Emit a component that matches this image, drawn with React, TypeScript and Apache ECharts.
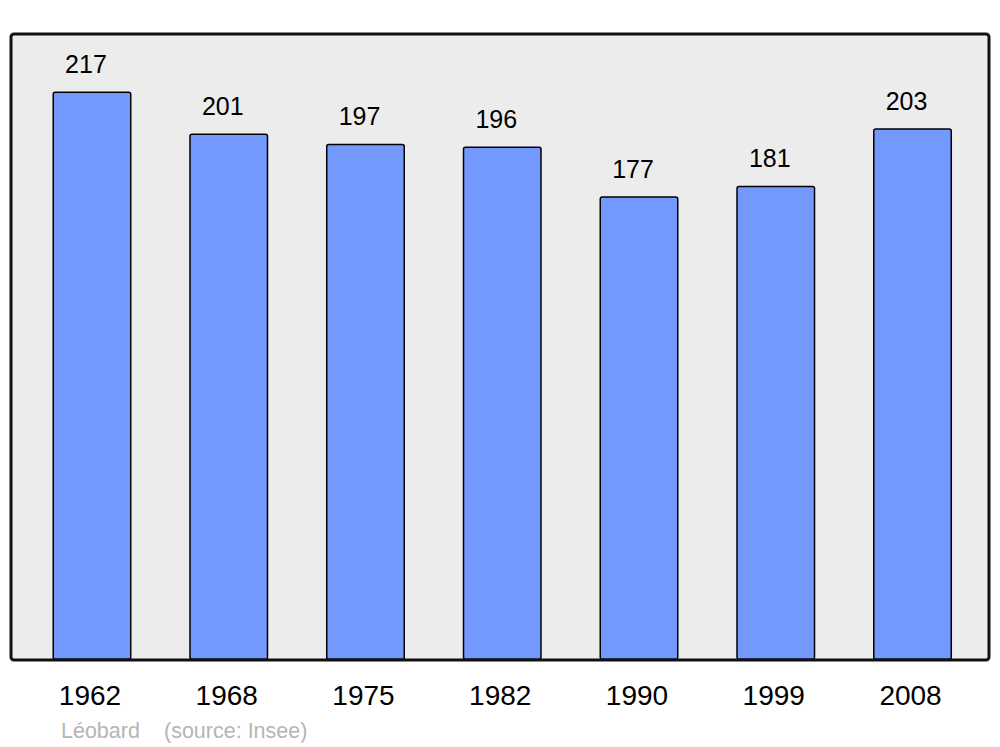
import React, { useEffect, useRef } from "react";
import * as echarts from "echarts";

const years = ["1962", "1968", "1975", "1982", "1990", "1999", "2008"];
const population = [217, 201, 197, 196, 177, 181, 203];
const author = "Léobard";
const source = "(source: Insee)";

const FONT = "'Liberation Sans', Arial, sans-serif";

export default function App() {
  const ref = useRef<HTMLDivElement>(null);
  useEffect(() => {
    document.body.style.margin = "0";
    const chart = echarts.init(ref.current!, null, { renderer: "svg" });
    chart.setOption({
      animation: false,
      backgroundColor: "#ffffff",
      textStyle: { fontFamily: FONT },
      grid: { left: 23.6, right: 19.1, top: 31.2, bottom: 87 },
      xAxis: {
        type: "category",
        data: years,
        axisLine: { show: false },
        axisTick: { show: false },
        axisLabel: {
          fontSize: 28,
          color: "#000",
          margin: 21,
          padding: [0, 4, 0, 0],
          fontFamily: FONT,
        },
      },
      yAxis: {
        type: "value",
        min: 0,
        max: 240,
        show: false,
        splitLine: { show: false },
      },
      graphic: [
        {
          type: "rect",
          z: -10,
          shape: { x: 11, y: 34, width: 978, height: 626, r: 3 },
          style: { fill: "#ececec", stroke: "none" },
        },
        {
          type: "rect",
          z: 100,
          shape: { x: 11, y: 34, width: 978, height: 626, r: 3 },
          style: { fill: "none", stroke: "#111", lineWidth: 3 },
        },
        {
          type: "text",
          x: 61,
          y: 731,
          style: {
            text: author,
            fontSize: 21.5,
            fill: "#b5b5b5",
            fontFamily: FONT,
            verticalAlign: "middle",
          },
        },
        {
          type: "text",
          x: 164,
          y: 731,
          style: {
            text: source,
            fontSize: 21.5,
            fill: "#b5b5b5",
            fontFamily: FONT,
            verticalAlign: "middle",
          },
        },
      ],
      series: [
        {
          type: "bar",
          data: population,
          barWidth: 79,
          itemStyle: {
            color: "#7399ff",
            borderColor: "#000",
            borderWidth: 1.5,
            borderRadius: 2,
          },
          label: {
            show: true,
            position: "top",
            distance: 15,
            offset: [-6, 0],
            fontSize: 25,
            color: "#000",
            fontFamily: FONT,
          },
        },
      ],
    });
    return () => chart.dispose();
  }, []);
  return <div ref={ref} style={{ width: 1000, height: 747 }} />;
}
